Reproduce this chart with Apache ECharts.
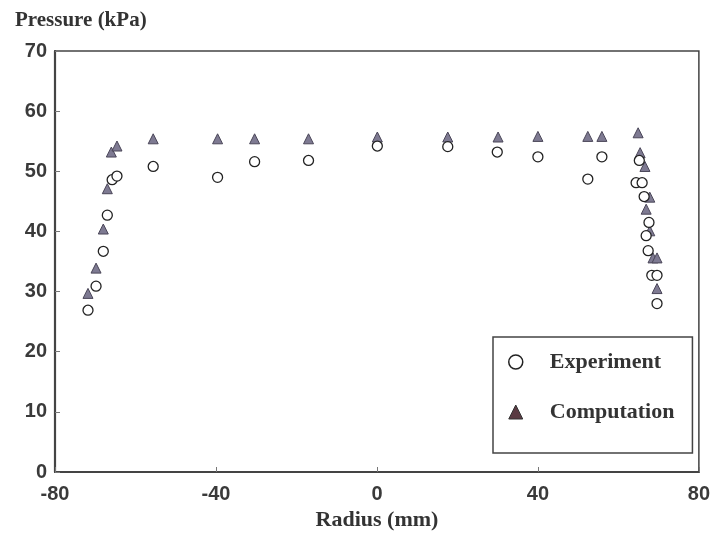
<!DOCTYPE html>
<html>
<head>
<meta charset="utf-8">
<script src="https://cdn.jsdelivr.net/npm/echarts@6/dist/echarts.min.js"></script>
<style>html,body{margin:0;padding:0;background:#fff}#c{width:713px;height:544px}</style>
</head>
<body>
<div id="c"></div>
<script>
// Experiment (circles): [radius mm, pressure kPa]
const experiment = [
  [-71.8, 26.9], [-69.8, 30.9], [-68.0, 36.7], [-67.0, 42.7], [-65.8, 48.6], [-64.6, 49.2],
  [-55.6, 50.8], [-39.6, 49.0], [-30.4, 51.6], [-17, 51.8], [0.1, 54.2], [17.6, 54.1],
  [29.9, 53.2], [40.0, 52.4], [52.4, 48.7], [55.9, 52.4],
  [65.2, 51.8], [64.4, 48.1], [65.9, 48.1], [66.4, 45.8], [67.6, 41.5], [66.9, 39.3],
  [67.4, 36.8], [68.3, 32.7], [69.6, 32.7], [69.6, 28.0]
];
// Computation (triangles)
const computation = [
  [-71.8, 29.7], [-69.8, 33.9], [-68.0, 40.4], [-67.0, 47.1], [-66.0, 53.2], [-64.6, 54.2],
  [-55.6, 55.4], [-39.6, 55.4], [-30.4, 55.4], [-17, 55.4], [0.1, 55.7], [17.6, 55.7],
  [30.1, 55.7], [40.0, 55.8], [52.4, 55.8], [55.9, 55.8],
  [64.9, 56.4], [65.4, 53.1], [66.6, 50.8], [67.8, 45.7], [66.9, 43.7], [67.8, 40.1],
  [68.6, 35.6], [69.6, 35.6], [69.6, 30.5]
];
const seriesNames = ['Experiment', 'Computation'];
const xTitle = 'Radius (mm)';
const yTitle = 'Pressure (kPa)';

const chart = echarts.init(document.getElementById('c'));
const labelStyle = {fontFamily: 'Liberation Sans', fontWeight: 'bold', fontSize: 20, color: '#3a3a3a'};
const serifBold = {fontFamily: 'Liberation Serif', fontWeight: 'bold', fontSize: 22, color: '#333'};
chart.setOption({
  animation: false,
  backgroundColor: '#fff',
  title: {
    text: yTitle, left: 10, top: 5,
    textStyle: Object.assign({}, serifBold, {fontSize: 21})
  },
  grid: {left: 55, right: 14, top: 51, bottom: 72, show: true, borderColor: '#444', borderWidth: 1.5, backgroundColor: 'transparent'},
  legend: {
    orient: 'vertical', left: 493, top: 337,
    padding: [14, 18, 30, 15], itemGap: 28,
    itemWidth: 14, itemHeight: 14,
    borderColor: '#444', borderWidth: 1.5,
    data: [
      {name: seriesNames[0], icon: 'circle', itemStyle: {color: '#fff', borderColor: '#222', borderWidth: 1.5}},
      {name: seriesNames[1], icon: 'triangle', itemStyle: {color: '#5a3a42', borderColor: '#333', borderWidth: 1}}
    ],
    textStyle: Object.assign({}, serifBold, {padding: [0, 0, 0, 22]})
  },
  xAxis: {
    type: 'value', min: -80, max: 80, interval: 40,
    name: xTitle, nameLocation: 'middle', nameGap: 36,
    nameTextStyle: serifBold,
    axisLine: {lineStyle: {color: '#444', width: 2.2}},
    axisTick: {inside: true, length: 5, lineStyle: {color: '#777'}},
    axisLabel: Object.assign({margin: 12}, labelStyle),
    splitLine: {show: false}
  },
  yAxis: {
    type: 'value', min: 0, max: 70, interval: 10,
    axisLine: {show: true, onZero: false, lineStyle: {color: '#444', width: 2.2}},
    axisTick: {show: true, inside: true, length: 5, lineStyle: {color: '#777'}},
    axisLabel: Object.assign({margin: 8, padding: [5, 0, 0, 0]}, labelStyle),
    splitLine: {show: false}
  },
  series: [
    {
      name: seriesNames[0], type: 'scatter', data: experiment, symbol: 'circle', symbolSize: 10,
      itemStyle: {color: '#fff', borderColor: '#222', borderWidth: 1.3, opacity: 1}, z: 3
    },
    {
      name: seriesNames[1], type: 'scatter', data: computation, symbol: 'triangle', symbolSize: 10,
      itemStyle: {color: '#7e7a92', borderColor: '#4a4658', borderWidth: 1, opacity: 1}, z: 2
    }
  ]
});
</script>
</body>
</html>
